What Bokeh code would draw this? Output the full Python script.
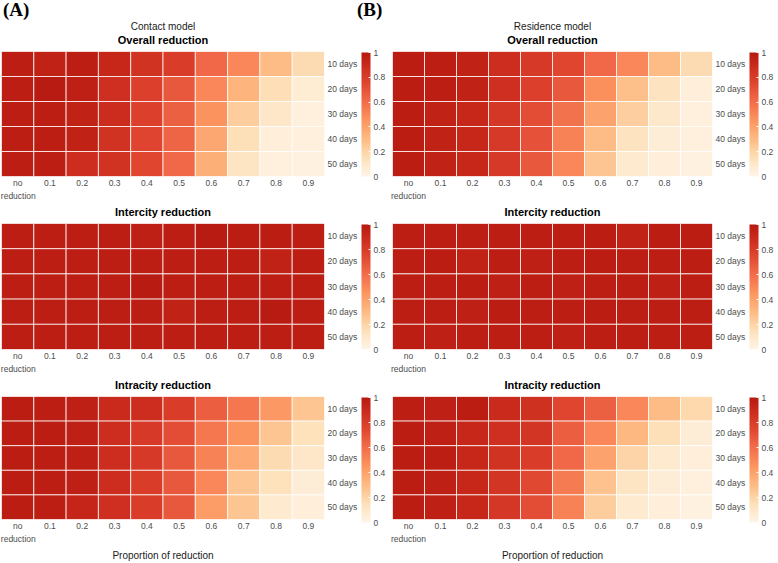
import numpy as np
from bokeh.plotting import figure
from bokeh.models import (ColumnDataSource, LinearColorMapper, ColorBar, FixedTicker,
                          Range1d, CustomJSTickFormatter, LinearAxis, Div, Title)
from bokeh.layouts import column, row
from bokeh.embed import file_html
from bokeh.resources import INLINE

reductions = ["no reduction", "0.1", "0.2", "0.3", "0.4", "0.5", "0.6", "0.7", "0.8", "0.9"]
durations = ["10 days", "20 days", "30 days", "40 days", "50 days"]
colorbar_ticks = [0, 0.2, 0.4, 0.6, 0.8, 1]

# rows: 10, 20, 30, 40, 50 days ; columns: reductions
contact_overall = [
    [0.97, 0.95, 0.97, 0.92, 0.85, 0.80, 0.62, 0.50, 0.30, 0.17],
    [0.97, 0.99, 0.96, 0.87, 0.78, 0.68, 0.50, 0.33, 0.16, 0.07],
    [0.97, 0.97, 0.95, 0.89, 0.78, 0.65, 0.46, 0.23, 0.10, 0.04],
    [0.97, 0.97, 0.95, 0.85, 0.76, 0.63, 0.38, 0.15, 0.05, 0.04],
    [0.97, 0.97, 0.88, 0.85, 0.75, 0.62, 0.35, 0.12, 0.04, 0.03],
]
contact_intercity = [
    [0.97, 0.97, 0.97, 0.97, 0.96, 0.97, 0.99, 0.98, 0.98, 0.97],
    [0.97, 0.97, 0.97, 0.97, 0.97, 0.97, 0.97, 0.97, 0.95, 0.97],
    [0.97, 0.97, 0.97, 0.97, 0.99, 0.97, 0.97, 0.97, 0.97, 0.97],
    [0.97, 0.97, 0.97, 0.97, 0.97, 0.95, 0.97, 0.97, 0.99, 0.97],
    [0.97, 0.97, 0.97, 0.97, 0.97, 0.97, 0.97, 0.97, 0.97, 0.97],
]
contact_intracity = [
    [0.98, 0.97, 0.96, 0.90, 0.88, 0.80, 0.66, 0.56, 0.44, 0.26],
    [0.98, 0.98, 0.96, 0.88, 0.82, 0.72, 0.56, 0.46, 0.26, 0.14],
    [0.98, 0.97, 0.96, 0.88, 0.82, 0.68, 0.52, 0.37, 0.17, 0.10],
    [0.98, 0.97, 0.96, 0.88, 0.80, 0.68, 0.50, 0.26, 0.14, 0.06],
    [0.98, 0.97, 0.93, 0.87, 0.80, 0.68, 0.42, 0.26, 0.08, 0.05],
]
residence_overall = [
    [0.98, 0.97, 0.95, 0.88, 0.82, 0.75, 0.62, 0.50, 0.30, 0.17],
    [0.98, 0.97, 0.95, 0.87, 0.78, 0.68, 0.47, 0.28, 0.13, 0.05],
    [0.98, 0.95, 0.92, 0.83, 0.72, 0.58, 0.40, 0.22, 0.09, 0.04],
    [0.98, 0.95, 0.92, 0.82, 0.70, 0.52, 0.30, 0.13, 0.06, 0.04],
    [0.98, 0.95, 0.92, 0.82, 0.68, 0.50, 0.26, 0.08, 0.05, 0.03],
]
residence_intercity = [
    [0.97, 0.97, 0.97, 0.97, 0.97, 0.97, 0.98, 0.95, 0.98, 0.98],
    [0.97, 0.98, 0.95, 0.97, 0.96, 0.97, 0.98, 0.97, 0.97, 0.97],
    [0.97, 0.97, 0.98, 0.96, 0.97, 0.96, 0.97, 0.97, 0.96, 0.97],
    [0.97, 0.97, 0.96, 0.98, 0.97, 0.97, 0.98, 0.97, 0.97, 0.97],
    [0.97, 0.96, 0.97, 0.97, 0.97, 0.96, 0.97, 0.97, 0.97, 0.97],
]
residence_intracity = [
    [0.97, 0.96, 0.98, 0.90, 0.86, 0.75, 0.65, 0.50, 0.30, 0.18],
    [0.98, 0.96, 0.92, 0.87, 0.84, 0.66, 0.50, 0.32, 0.15, 0.06],
    [0.98, 0.97, 0.92, 0.85, 0.80, 0.62, 0.40, 0.20, 0.08, 0.05],
    [0.98, 0.96, 0.92, 0.84, 0.74, 0.55, 0.27, 0.12, 0.06, 0.04],
    [0.98, 0.96, 0.92, 0.83, 0.72, 0.52, 0.23, 0.08, 0.05, 0.03],
]

# colour scale (light cream -> orange -> dark red)
anchor_pos = [0.0, 0.15, 0.3, 0.45, 0.6, 0.75, 0.9, 1.0]
anchor_col = ["#FFF5E9", "#FDE0B8", "#FDBB84", "#FC9560", "#F26D4B", "#E04630", "#CA2A1C", "#B71A10"]


def build_palette(n=256):
    rgb = np.array([[int(c[i:i + 2], 16) for i in (1, 3, 5)] for c in anchor_col], float)
    t = np.linspace(0, 1, n)
    out = []
    for v in t:
        r = np.interp(v, anchor_pos, rgb[:, 0])
        g = np.interp(v, anchor_pos, rgb[:, 1])
        b = np.interp(v, anchor_pos, rgb[:, 2])
        out.append("#%02x%02x%02x" % (int(round(r)), int(round(g)), int(round(b))))
    return out


PALETTE = build_palette()
FONT = "Liberation Sans"
TICK_COL = "#4d4d4d"
TICK_SIZE = "8.5px"

FRAME_W = 324
X_CENTERS = [j + 0.5 for j in range(len(reductions))]
Y_CENTERS = [len(durations) - i - 0.5 for i in range(len(durations))]


def style_axis(ax, standoff):
    ax.axis_line_color = None
    ax.major_tick_line_color = None
    ax.minor_tick_line_color = None
    ax.major_tick_out = 0
    ax.major_tick_in = 0
    ax.major_label_text_font = FONT
    ax.major_label_text_font_size = TICK_SIZE
    ax.major_label_text_color = TICK_COL
    ax.major_label_standoff = standoff


def heatmap(values, title, left, right, top, frame_h, bottom, model=None, xlabel=False):
    xs, ys, vs = [], [], []
    for i in range(len(durations)):
        for j in range(len(reductions)):
            xs.append(X_CENTERS[j])
            ys.append(Y_CENTERS[i])
            vs.append(values[i][j])
    src = ColumnDataSource(dict(x=xs, y=ys, v=vs))
    mapper = LinearColorMapper(palette=PALETTE, low=0, high=1)
    p = figure(x_range=Range1d(0, len(reductions)), y_range=Range1d(0, len(durations)),
               width=left + FRAME_W + right, height=top + frame_h + bottom,
               min_border_left=left, min_border_right=right,
               min_border_top=top, min_border_bottom=bottom,
               output_backend="svg", toolbar_location=None, y_axis_location="right",
               tools="", title=None)
    # small blank gap between the heading and the heat map
    p.add_layout(Title(text=" ", text_font_size="2px", standoff=2), "above")
    p.add_layout(Title(text=title, align="center", text_font=FONT, text_font_size="11px",
                       text_font_style="bold", text_color="black", standoff=0), "above")
    if model:
        p.add_layout(Title(text=model, align="center", text_font=FONT, text_font_size="10px",
                           text_font_style="normal", text_color="#1a1a1a", standoff=0),
                     "above")
    p.rect(x="x", y="y", width=1, height=1, source=src,
           fill_color={"field": "v", "transform": mapper},
           line_color="white", line_width=1, line_alpha=0.75)
    p.outline_line_color = None
    p.grid.grid_line_color = None
    p.background_fill_color = "white"
    p.border_fill_color = "white"
    p.border_fill_alpha = 0

    xa = p.xaxis[0]
    style_axis(xa, 1)
    xa.ticker = FixedTicker(ticks=X_CENTERS)
    xa.major_label_overrides = {X_CENTERS[j]: ("no" if j == 0 else reductions[j])
                                for j in range(len(reductions))}
    ya = p.yaxis[0]
    style_axis(ya, 3)
    ya.ticker = FixedTicker(ticks=Y_CENTERS)
    ya.major_label_overrides = {Y_CENTERS[i]: durations[i] for i in range(len(durations))}
    ya.major_label_text_align = "left"

    ax2 = LinearAxis(ticker=FixedTicker(ticks=[X_CENTERS[0]]))
    style_axis(ax2, 0)
    ax2.major_label_overrides = {X_CENTERS[0]: "reduction"}
    if xlabel:
        ax2.axis_label = "Proportion of reduction"
        ax2.axis_label_text_font = FONT
        ax2.axis_label_text_font_size = "10px"
        ax2.axis_label_text_font_style = "normal"
        ax2.axis_label_text_color = "#1a1a1a"
        ax2.axis_label_standoff = 3
    p.add_layout(ax2, "below")

    cb = ColorBar(color_mapper=mapper, width=9, height=frame_h - 5, padding=1, margin=0,
                  ticker=FixedTicker(ticks=colorbar_ticks),
                  formatter=CustomJSTickFormatter(code="return String(tick)"),
                  major_label_text_font=FONT, major_label_text_font_size=TICK_SIZE,
                  major_label_text_color=TICK_COL, label_standoff=3,
                  major_tick_line_color="white", major_tick_in=2, major_tick_out=0,
                  bar_line_color=None, location="top_left", background_fill_color=None,
                  border_line_color=None)
    p.add_layout(cb, "right")
    return p


header = Div(text=(
    '<div style="position:relative;width:777px;height:18px;">'
    '<span style="position:absolute;left:3px;top:0px;font-family:\'Liberation Serif\';'
    'font-weight:bold;font-size:19px;line-height:19px;color:black;">(A)</span>'
    '<span style="position:absolute;left:357px;top:0px;font-family:\'Liberation Serif\';'
    'font-weight:bold;font-size:19px;line-height:19px;color:black;">(B)</span>'
    '</div>'), width=777, height=18, margin=(0, 0, 0, 0))

a1 = heatmap(contact_overall, "Overall reduction", 1, 64, 30, 129, 26, model="Contact model")
a2 = heatmap(contact_intercity, "Intercity reduction", 1, 64, 17, 130, 26)
a3 = heatmap(contact_intracity, "Intracity reduction", 1, 64, 17, 130, 40, xlabel=True)
b1 = heatmap(residence_overall, "Overall reduction", 3, 61, 30, 129, 26, model="Residence model")
b2 = heatmap(residence_intercity, "Intercity reduction", 3, 61, 17, 130, 26)
b3 = heatmap(residence_intracity, "Intracity reduction", 3, 61, 17, 130, 40, xlabel=True)

layout = column(header,
                row(column(a1, a2, a3, spacing=0), column(b1, b2, b3, spacing=0), spacing=0),
                spacing=0)

with open("out.html", "w") as f:
    f.write(file_html(layout, INLINE))
